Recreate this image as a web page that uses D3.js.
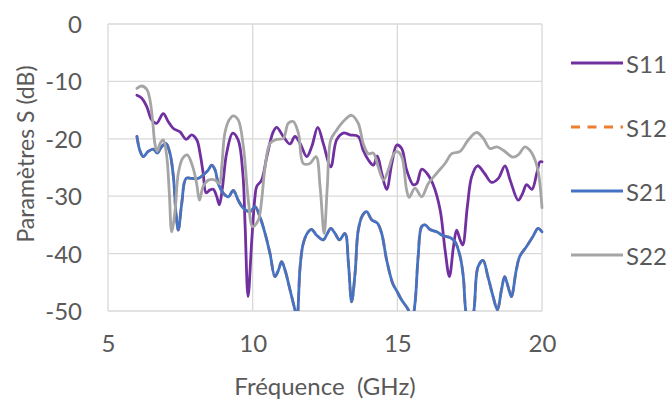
<!DOCTYPE html>
<html>
<head>
<meta charset="utf-8">
<script src="https://cdn.jsdelivr.net/npm/d3@7"></script>
<style>
  html, body { margin: 0; padding: 0; background: #fff; }
  svg { display: block; }
  text { font-family: Lato, "Open Sans", sans-serif; fill: #595959; }
</style>
</head>
<body>
<svg id="chart" width="669" height="399"></svg>
<script>
// ---- Data ----
const xTicks = [5, 10, 15, 20];
const yTicks = [0, -10, -20, -30, -40, -50];
const seriesNames = ["S11", "S12", "S21", "S22"];
const seriesColors = ["#7030A0", "#ED7D31", "#4472C4", "#A5A5A5"];

const s11Freq = [6.0, 6.16, 6.34, 6.51, 6.68, 6.91, 7.08, 7.26, 7.49, 7.70, 7.89, 8.07, 8.18, 8.29, 8.39, 8.53, 8.64, 8.76, 8.85, 8.96, 9.10, 9.31, 9.50, 9.66, 9.74, 9.84, 9.97, 10.08, 10.14, 10.31, 10.49, 10.71, 10.83, 11.06, 11.29, 11.46, 11.64, 11.87, 12.04, 12.25, 12.44, 12.70, 12.90, 13.13, 13.36, 13.65, 13.82, 14.0, 14.17, 14.31, 14.46, 14.63, 14.81, 14.98, 15.15, 15.32, 15.55, 15.67, 15.84, 16.02, 16.24, 16.48, 16.65, 16.80, 16.94, 17.05, 17.17, 17.26, 17.42, 17.57, 17.77, 18.01, 18.26, 18.49, 18.72, 18.90, 19.18, 19.33, 19.47, 19.65, 19.82, 19.93, 20.0];
const s11Vals = [-12.4, -12.9, -14.4, -16.7, -17.3, -15.6, -17.0, -18.2, -18.8, -20.1, -19.3, -20.2, -22.5, -26.0, -29.4, -28.9, -28.8, -30.1, -31.5, -28.3, -22.5, -19.0, -20.2, -26.0, -35.3, -47.5, -37.6, -30.1, -28.3, -27.2, -23.1, -18.8, -18.0, -19.6, -20.9, -19.6, -20.8, -23.1, -21.4, -18.0, -20.8, -24.9, -20.2, -19.0, -19.3, -19.6, -22.0, -23.7, -24.6, -23.0, -26.0, -28.8, -24.3, -21.1, -21.7, -25.4, -28.0, -27.8, -25.3, -26.0, -28.0, -32.4, -39.4, -44.0, -38.8, -35.9, -37.6, -38.5, -31.8, -26.6, -24.7, -26.0, -27.6, -26.9, -24.7, -27.2, -30.7, -29.5, -28.0, -28.8, -26.0, -24.0, -24.0];

const s21Freq = [6.0, 6.1, 6.22, 6.39, 6.57, 6.70, 6.85, 7.0, 7.14, 7.26, 7.35, 7.43, 7.55, 7.70, 7.89, 8.12, 8.29, 8.47, 8.58, 8.70, 8.81, 8.99, 9.16, 9.33, 9.50, 9.68, 9.91, 10.08, 10.25, 10.43, 10.6, 10.77, 10.89, 11.0, 11.12, 11.29, 11.46, 11.53, 11.64, 11.75, 11.92, 12.04, 12.21, 12.44, 12.58, 12.70, 12.85, 13.0, 13.19, 13.31, 13.42, 13.54, 13.65, 13.8, 13.94, 14.11, 14.31, 14.46, 14.63, 14.84, 14.98, 15.15, 15.38, 15.5, 15.61, 15.72, 15.84, 15.96, 16.13, 16.36, 16.59, 16.82, 16.99, 17.17, 17.28, 17.36, 17.5, 17.65, 17.79, 17.96, 18.13, 18.31, 18.46, 18.6, 18.71, 18.83, 18.94, 19.11, 19.23, 19.46, 19.69, 19.86, 20.0];
const s21Vals = [-19.6, -22.0, -23.1, -22.2, -21.8, -22.5, -21.4, -20.8, -22.5, -26.6, -33.0, -35.9, -31.2, -26.9, -26.9, -26.9, -26.3, -25.4, -24.6, -25.4, -27.8, -29.5, -30.1, -29.0, -30.7, -32.1, -32.7, -31.8, -33.6, -36.5, -40.0, -44.0, -42.9, -41.4, -42.9, -46.3, -49.8, -51.5, -42.3, -38.2, -36.2, -35.8, -36.8, -37.6, -36.5, -35.6, -36.5, -37.6, -36.5, -41.7, -48.4, -43.4, -35.9, -33.3, -32.7, -34.1, -34.7, -36.5, -41.1, -45.2, -46.5, -48.1, -49.8, -52.0, -48.7, -40.5, -35.3, -35.0, -35.8, -36.2, -36.9, -37.2, -37.9, -40.5, -44.0, -49.8, -54.0, -49.8, -42.3, -41.2, -44.0, -47.5, -49.8, -46.3, -44.0, -45.8, -47.5, -42.9, -40.5, -38.8, -37.0, -35.6, -36.2];

// S12 is reciprocal to S21 and hidden beneath it in the reference
const s12Freq = s21Freq;
const s12Vals = s21Vals;

const s22Freq = [6.0, 6.16, 6.34, 6.45, 6.54, 6.62, 6.70, 6.80, 6.91, 7.03, 7.12, 7.20, 7.32, 7.43, 7.58, 7.74, 7.93, 8.07, 8.16, 8.29, 8.47, 8.70, 8.85, 8.93, 9.04, 9.19, 9.33, 9.50, 9.68, 9.85, 10.0, 10.2, 10.31, 10.43, 10.6, 10.83, 11.06, 11.23, 11.4, 11.58, 11.75, 11.98, 12.19, 12.33, 12.47, 12.58, 12.70, 12.90, 13.13, 13.42, 13.65, 13.82, 14.0, 14.17, 14.34, 14.52, 14.69, 14.86, 14.98, 15.15, 15.32, 15.41, 15.61, 15.84, 16.07, 16.36, 16.65, 16.88, 17.17, 17.45, 17.74, 17.97, 18.20, 18.44, 18.66, 19.0, 19.18, 19.41, 19.58, 19.76, 19.88, 20.0];
const s22Vals = [-11.2, -10.8, -11.4, -13.2, -16.7, -20.8, -22.2, -20.8, -20.2, -23.1, -29.5, -36.2, -32.4, -26.0, -23.4, -22.8, -24.9, -28.0, -30.7, -28.3, -27.2, -27.2, -27.8, -24.9, -19.0, -16.7, -16.0, -16.7, -21.4, -30.7, -35.3, -34.1, -30.7, -24.9, -20.8, -20.1, -19.9, -17.3, -17.0, -19.0, -24.3, -24.3, -23.1, -28.3, -36.5, -28.3, -20.2, -18.5, -17.0, -15.9, -17.3, -20.8, -22.6, -22.5, -24.9, -27.2, -25.4, -22.8, -22.2, -23.1, -28.9, -30.2, -28.6, -30.1, -27.8, -26.0, -24.3, -22.6, -22.2, -20.2, -18.9, -19.9, -21.7, -21.4, -22.0, -23.2, -22.8, -21.4, -22.0, -23.7, -26.0, -32.0];

const seriesFreq = [s11Freq, s12Freq, s21Freq, s22Freq];
const seriesVals = [s11Vals, s12Vals, s21Vals, s22Vals];

// ---- Layout ----
const svg = d3.select("#chart");
const mLeft = 108, mRight = 542, mTop = 24, mBottom = 311;

const x = d3.scaleLinear().domain([5, 20]).range([mLeft, mRight]);
const y = d3.scaleLinear().domain([-50, 0]).range([mBottom, mTop]);

// gridlines
const grid = svg.append("g");
grid.selectAll("line.h").data(yTicks).enter().append("line")
  .attr("x1", mLeft).attr("x2", mRight)
  .attr("y1", d => y(d)).attr("y2", d => y(d))
  .attr("stroke", "#D9D9D9").attr("stroke-width", 1.3);
grid.selectAll("line.v").data(xTicks).enter().append("line")
  .attr("y1", mTop).attr("y2", mBottom)
  .attr("x1", d => x(d)).attr("x2", d => x(d))
  .attr("stroke", "#D9D9D9").attr("stroke-width", 1.3);

// axes (labels only)
const yAxis = d3.axisLeft(y).tickValues(yTicks).tickSize(0).tickPadding(0).tickFormat(d => String(d));
const yg = svg.append("g").attr("transform", `translate(${mLeft - 26},0)`).call(yAxis);
yg.select(".domain").remove();
yg.selectAll("text").attr("font-size", 24).attr("font-family", "Lato").attr("fill", "#595959").attr("dy", "0.35em");

const xAxis = d3.axisBottom(x).tickValues(xTicks).tickSize(0).tickPadding(0).tickFormat(d => String(d));
const xg = svg.append("g").attr("transform", `translate(0,${mBottom + 24})`).call(xAxis);
xg.select(".domain").remove();
xg.selectAll("text").attr("font-size", 24).attr("font-family", "Lato").attr("fill", "#595959").attr("dy", "0.71em");

// axis titles
svg.append("text")
  .attr("x", (mLeft + mRight) / 2).attr("y", 385)
  .attr("text-anchor", "middle").attr("dominant-baseline", "central")
  .style("white-space", "pre")
  .attr("font-size", 24).text("Fréquence  (GHz)");
svg.append("text")
  .attr("transform", `translate(25,${154}) rotate(-90)`)
  .attr("text-anchor", "middle").attr("dominant-baseline", "central")
  .attr("font-size", 23).text("Paramètres S (dB)");

// lines
svg.append("defs").append("clipPath").attr("id", "clip")
  .append("rect").attr("x", mLeft).attr("y", mTop - 5).attr("width", mRight - mLeft + 3).attr("height", mBottom - mTop + 5);

const line = d3.line().x(d => x(d[0])).y(d => y(d[1])).curve(d3.curveCatmullRom.alpha(0.5));
const plot = svg.append("g").attr("clip-path", "url(#clip)");
seriesNames.forEach((name, i) => {
  const pts = seriesFreq[i].map((f, j) => [f, seriesVals[i][j]]);
  plot.append("path").datum(pts)
    .attr("d", line)
    .attr("fill", "none")
    .attr("stroke", seriesColors[i])
    .attr("stroke-width", 2.8)
    .attr("stroke-linejoin", "round")
    .attr("stroke-linecap", "round")
    .attr("stroke-dasharray", name === "S12" ? "8,6" : null);
});

// legend
const legendY = [63, 127, 191, 255];
const lg = svg.append("g");
seriesNames.forEach((name, i) => {
  lg.append("line")
    .attr("x1", 571).attr("x2", 623).attr("y1", legendY[i]).attr("y2", legendY[i])
    .attr("stroke", seriesColors[i]).attr("stroke-width", 2.8)
    .attr("stroke-dasharray", name === "S12" ? "9,7.5" : null);
  lg.append("text")
    .attr("x", 626).attr("y", legendY[i])
    .attr("dominant-baseline", "central")
    .attr("font-size", 24).text(name);
});
</script>
</body>
</html>
